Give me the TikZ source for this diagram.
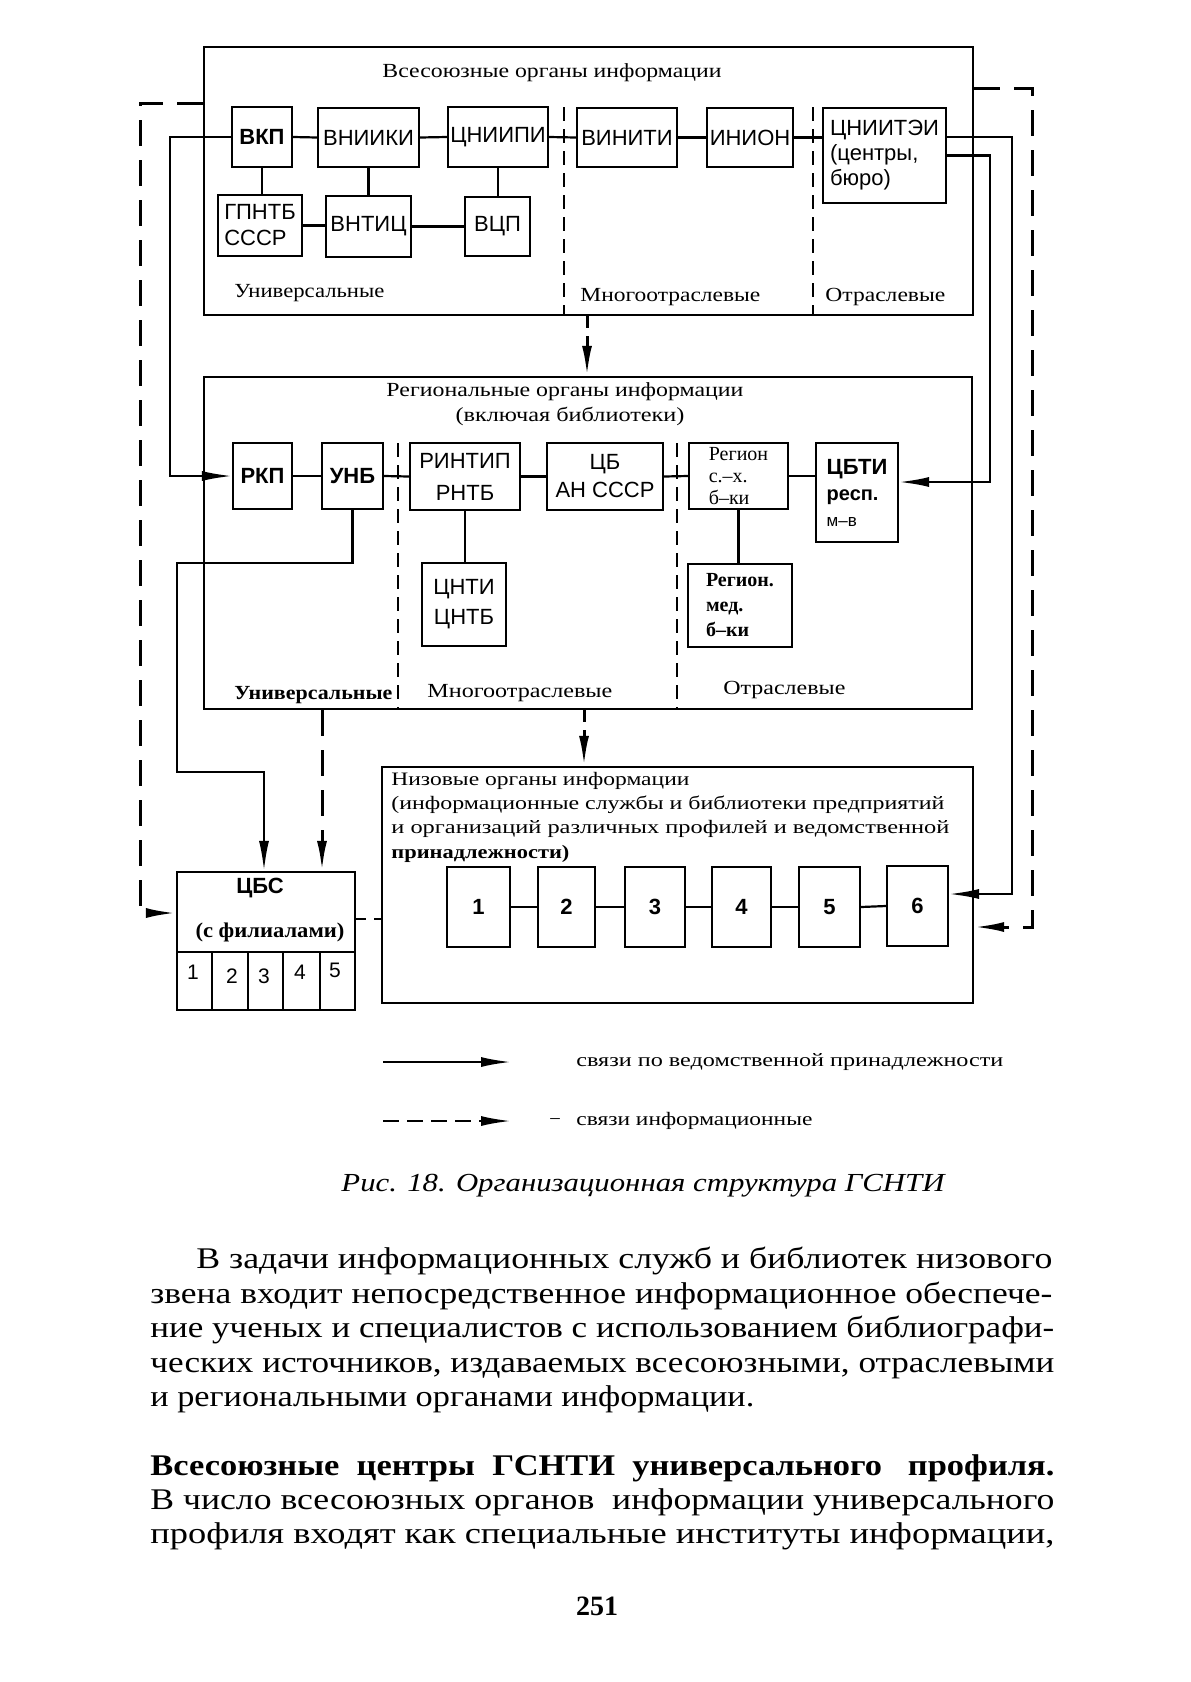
\documentclass[tikz,border=0pt]{standalone}
\usepackage{graphicx}
\usepackage{fontspec}
\setmainfont{Liberation Serif}
\newfontfamily\dsans{Liberation Sans}
\usetikzlibrary{arrows.meta,calc}
\newcommand{\fitw}[2]{\resizebox{#1}{\height}{#2}}
\newcommand{\bx}[7][]{\node[org,minimum width={(#5-#3)*0.5pt},minimum height={(#6-#4)*0.5pt},#1] (#2) at ({(#3+#5)/2},{(#4+#6)/2}) {#7};}
\begin{document}
\begin{tikzpicture}[x=0.5pt,y=-0.5pt,
  org/.style={draw,line width=1.1pt,inner sep=0pt,align=center,font=\dsans\fontsize{11}{13}\selectfont},
  frame/.style={line width=1.2pt},
  conn/.style={line width=1.1pt},
  info/.style={line width=1.5pt,dash pattern=on 13pt off 7pt},
  infoshort/.style={line width=1.5pt,dash pattern=on 6pt off 4pt},
  infos/.style={line width=1.4pt,dash pattern=on 5pt off 4pt},
  divl/.style={line width=0.8pt,dash pattern=on 7pt off 4pt},
  tip/.style={-{Latex[length=15pt,width=5pt]}},
  lbl/.style={inner sep=0pt,font=\fontsize{10}{12}\selectfont},
  body/.style={inner sep=0pt,anchor=base west,font=\fontsize{15}{18}\selectfont}]
\useasboundingbox[fill=white] (0,0) rectangle (1190,1682);

% ---------- All-union frame
\bx[frame]{T}{204}{47}{973}{315}{}
\node[lbl] (tT) at (552,73) {\fitw{169.5pt}{Всесоюзные органы информации}};
\bx[font=\dsans\bfseries\fontsize{11}{13}\selectfont]{vkp}{232}{107}{292}{167}{ВКП}
\bx{vniiki}{318}{108}{419}{167}{ВНИИКИ}
\bx{cniipi}{448}{107}{548}{167}{ЦНИИПИ}
\bx{vinit}{577}{108}{677}{167}{ВИНИТИ}
\bx{inion}{707}{108}{793}{167}{ИНИОН}
\bx[align=left,font=\dsans\fontsize{11}{12.5}\selectfont]{cniitei}{823}{108}{946}{203}{ЦНИИТЭИ\\(центры,\\бюро)}
\bx[align=left]{gpntb}{218}{195}{302}{256}{ГПНТБ\\СССР}
\bx{vntic}{326}{196}{411}{257}{ВНТИЦ}
\bx{vcp}{465}{197}{530}{256}{ВЦП}
\draw[conn] (vkp.east) -- (vniiki.west);
\draw[conn] (vniiki.east) -- (cniipi.west);
\draw[conn] (cniipi.east) -- (vinit.west);
\draw[conn] (vinit.east) -- (inion.west);
\draw[conn] (inion.east) -- (inion.east -| cniitei.west);
\draw[conn] (vkp.south) -- (vkp.south |- gpntb.north);
\draw[conn] (vniiki.south) -- (vniiki.south |- vntic.north);
\draw[conn] (cniipi.south) -- (cniipi.south |- vcp.north);
\draw[conn] (gpntb.east) -- (gpntb.east -| vntic.west);
\draw[conn] (vntic.east) -- (vntic.east -| vcp.west);
\coordinate (tdv1) at (564,107);
\coordinate (tdv2) at (813,107);
\draw[divl] (tdv1) -- (tdv1 |- T.south);
\draw[divl] (tdv2) -- (tdv2 |- T.south);
\node[lbl,anchor=west] (tu) at (234,293) {\fitw{75pt}{Универсальные}};
\node[lbl,anchor=west] (tm) at (580,297) {\fitw{90pt}{Многоотраслевые}};
\node[lbl,anchor=west] (to) at (825,297) {\fitw{60pt}{Отраслевые}};

% ---------- Regional frame
\bx[frame]{R}{204}{377}{972}{709}{}
\node[lbl] (rT1) at (565,392) {\fitw{178.5pt}{Региональные органы информации}};
\node[lbl] (rT2) at (570,416) {\fitw{114.5pt}{(включая библиотеки)}};
\bx[font=\dsans\bfseries\fontsize{11}{13}\selectfont]{rkp}{233}{443}{292}{509}{РКП}
\bx[font=\dsans\bfseries\fontsize{11}{13}\selectfont]{unb}{322}{443}{383}{509}{УНБ}
\bx[font=\dsans\fontsize{11}{16}\selectfont]{rintip}{410}{443}{520}{510}{РИНТИП\\РНТБ}
\bx[font=\dsans\fontsize{11}{14}\selectfont]{cbas}{547}{443}{663}{510}{ЦБ\\АН СССР}
\bx[align=left,font=\fontsize{10}{10.8}\selectfont]{regsh}{689}{443}{788}{509}{Регион\\с.–х.\\б–ки}
\bx[align=left,font=\dsans\fontsize{10}{13}\selectfont]{cbti}{816}{443}{898}{542}{{\bfseries\fontsize{11}{13}\selectfont ЦБТИ}\\{\bfseries респ.}\\{\fontsize{8.5}{10}\selectfont м–в}}
\bx[font=\dsans\fontsize{11}{15}\selectfont]{cnti}{422}{563}{506}{646}{ЦНТИ\\ЦНТБ}
\bx[align=left,font=\fontsize{10}{12.5}\selectfont\bfseries]{regmed}{688}{564}{792}{647}{Регион.\\мед.\\б–ки}
\draw[conn] (rkp.east) -- (unb.west);
\draw[conn] (unb.east) -- (rintip.west);
\draw[conn] (rintip.east) -- (cbas.west);
\draw[conn] (cbas.east) -- (regsh.west);
\draw[conn] (regsh.east) -- (regsh.east -| cbti.west);
\draw[conn] (rintip.south) -- (rintip.south |- cnti.north);
\draw[conn] (regsh.south) -- (regsh.south |- regmed.north);
\coordinate (rdv1) at (398,443);
\coordinate (rdv2) at (677,443);
\draw[divl] (rdv1) -- (rdv1 |- R.south);
\draw[divl] (rdv2) -- (rdv2 |- R.south);
\node[lbl,anchor=west,font=\fontsize{10}{12}\selectfont\bfseries] (ru) at (234,695) {\fitw{79pt}{Универсальные}};
\node[lbl,anchor=west] (rm) at (427,693) {\fitw{92.5pt}{Многоотраслевые}};
\node[lbl,anchor=west] (ro) at (723,690) {\fitw{61pt}{Отраслевые}};

% ---------- Local frame
\bx[frame]{N}{382}{767}{973}{1003}{}
\node[lbl,anchor=west,font=\fontsize{9.5}{11}\selectfont] (n1) at (391,781) {\fitw{149pt}{Низовые органы информации}};
\node[lbl,anchor=west,font=\fontsize{9.5}{11}\selectfont] (n2) at (391,805) {\fitw{276.5pt}{(информационные службы и библиотеки предприятий}};
\node[lbl,anchor=west,font=\fontsize{9.5}{11}\selectfont] (n3) at (391,829) {\fitw{279pt}{и организаций различных профилей и ведомственной}};
\node[lbl,anchor=west,font=\fontsize{9.5}{11}\selectfont\bfseries] (n4) at (391,854) {\fitw{89pt}{принадлежности)}};
\bx[font=\dsans\bfseries\fontsize{11}{13}\selectfont]{b1}{447}{867}{510}{947}{1}
\bx[font=\dsans\bfseries\fontsize{11}{13}\selectfont]{b2}{538}{867}{595}{947}{2}
\bx[font=\dsans\bfseries\fontsize{11}{13}\selectfont]{b3}{625}{867}{685}{947}{3}
\bx[font=\dsans\bfseries\fontsize{11}{13}\selectfont]{b4}{712}{867}{771}{947}{4}
\bx[font=\dsans\bfseries\fontsize{11}{13}\selectfont]{b5}{799}{867}{860}{947}{5}
\bx[font=\dsans\bfseries\fontsize{11}{13}\selectfont]{b6}{887}{866}{948}{946}{6}
\draw[conn] (b1.east) -- (b2.west);
\draw[conn] (b2.east) -- (b3.west);
\draw[conn] (b3.east) -- (b4.west);
\draw[conn] (b4.east) -- (b5.west);
\draw[conn] (b5.east) -- (b6.west);

% ---------- CBS
\bx{cbs}{177}{872}{355}{1010}{}
\coordinate (cbsl) at (177,952);
\draw[conn] (cbsl) -- (cbsl -| cbs.east);
\foreach \cx in {212,248,283,320} \draw[conn] (\cx,952) -- (\cx,1010);
\node[lbl,font=\dsans\bfseries\fontsize{11}{13}\selectfont] (cbsT) at (260,888) {ЦБС};
\node[lbl,font=\fontsize{10.5}{12}\selectfont\bfseries] (cbsF) at (270,932) {\fitw{74.5pt}{(с филиалами)}};
\node[lbl,font=\dsans\fontsize{10.5}{12}\selectfont] (c1) at (193,972) {1};
\node[lbl,font=\dsans\fontsize{10.5}{12}\selectfont] (c2) at (232,976) {2};
\node[lbl,font=\dsans\fontsize{10.5}{12}\selectfont] (c3) at (264,976) {3};
\node[lbl,font=\dsans\fontsize{10.5}{12}\selectfont] (c4) at (300,972) {4};
\node[lbl,font=\dsans\fontsize{10.5}{12}\selectfont] (c5) at (335,970) {5};

% ---------- connectors
\coordinate (s1) at (170,300);
\draw[conn,tip] (vkp.west) -| (s1) |- (rkp.west);
\coordinate (a1) at (1012,894);
\draw[conn,tip] (cniitei.east |- vkp.east) -| (a1) -- (b6.east |- a1);
\coordinate (a2) at (990,482);
\draw[conn,tip] (cniitei.east) -| (a2) -- (cbti.east |- a2);
\coordinate (u1) at (177,563);
\coordinate (u2) at (264,772);
\draw[conn,tip] (unb.south) |- (u1) |- (u2) -- (u2 |- cbs.north);
\coordinate (dl1) at (140,103);
\coordinate (dl2) at (140,913);
\draw[info,tip] (T.west |- dl1) -- (dl1) -- (dl2) -- (cbs.west |- dl2);
\coordinate (dr1) at (1032,88);
\coordinate (dr2) at (1032,927);
\draw[info,tip] (T.east |- dr1) -- (dr1) -- (dr2) -- (N.east |- dr2);
\coordinate (d1) at (587,340);
\draw[infoshort,tip] (T.south -| d1) -- (R.north -| d1);
\coordinate (d2) at (584,740);
\draw[infoshort,tip] (R.south -| d2) -- (N.north -| d2);
\coordinate (d3) at (322,790);
\draw[info,tip] (R.south -| d3) -- (cbs.north -| d3);
\coordinate (d4) at (370,919);
\draw[infos] (cbs.east |- d4) -- (N.west |- d4);

% ---------- legend
\coordinate (lg1) at (383,1062);
\coordinate (lg2) at (511,1062);
\draw[conn,-{Latex[length=15pt,width=5pt]}] (lg1) -- (lg2);
\node[lbl,anchor=west,font=\fontsize{9.5}{11}\selectfont] (lgt1) at (576,1062) {\fitw{213.5pt}{связи по ведомственной принадлежности}};
\coordinate (lg3) at (383,1121);
\coordinate (lg4) at (511,1121);
\draw[line width=1.1pt,dash pattern=on 8pt off 4pt,-{Latex[length=15pt,width=5pt]}] (lg3) -- (lg4);
\node[lbl,font=\fontsize{9.5}{11}\selectfont] (lgd) at (555,1121) {–};
\node[lbl,anchor=west,font=\fontsize{9.5}{11}\selectfont] (lgt2) at (576,1121) {\fitw{118pt}{связи информационные}};

% ---------- caption and text
\node[inner sep=0pt,font=\fontsize{13}{15}\selectfont\itshape] (cap) at (643,1186) {\fitw{301.5pt}{Рис. 18. Организационная структура ГСНТИ}};
\node[body] (p1) at (196,1268) {\fitw{428pt}{В задачи информационных служб и библиотек низового}};
\node[body] (p2) at (150,1303) {\fitw{451pt}{звена входит непосредственное информационное обеспече-}};
\node[body] (p3) at (150,1337) {\fitw{452pt}{ние ученых и специалистов с использованием библиографи-}};
\node[body] (p4) at (150,1372) {\fitw{452pt}{ческих источников, издаваемых всесоюзными, отраслевыми}};
\node[body] (p5) at (150,1406) {\fitw{302pt}{и региональными органами информации.}};
\node[body,font=\fontsize{15}{18}\selectfont\bfseries] (h1) at (150,1475) {\fitw{452pt}{Всесоюзные \ центры \ ГСНТИ \ универсального \ \ профиля.}};
\node[body] (p6) at (150,1509) {\fitw{452pt}{В число всесоюзных органов \ информации универсального}};
\node[body] (p7) at (150,1543) {\fitw{452pt}{профиля входят как специальные институты информации,}};
\node[inner sep=0pt,font=\fontsize{14}{16}\selectfont\bfseries] (pg) at (597,1606) {251};
\end{tikzpicture}
\end{document}
